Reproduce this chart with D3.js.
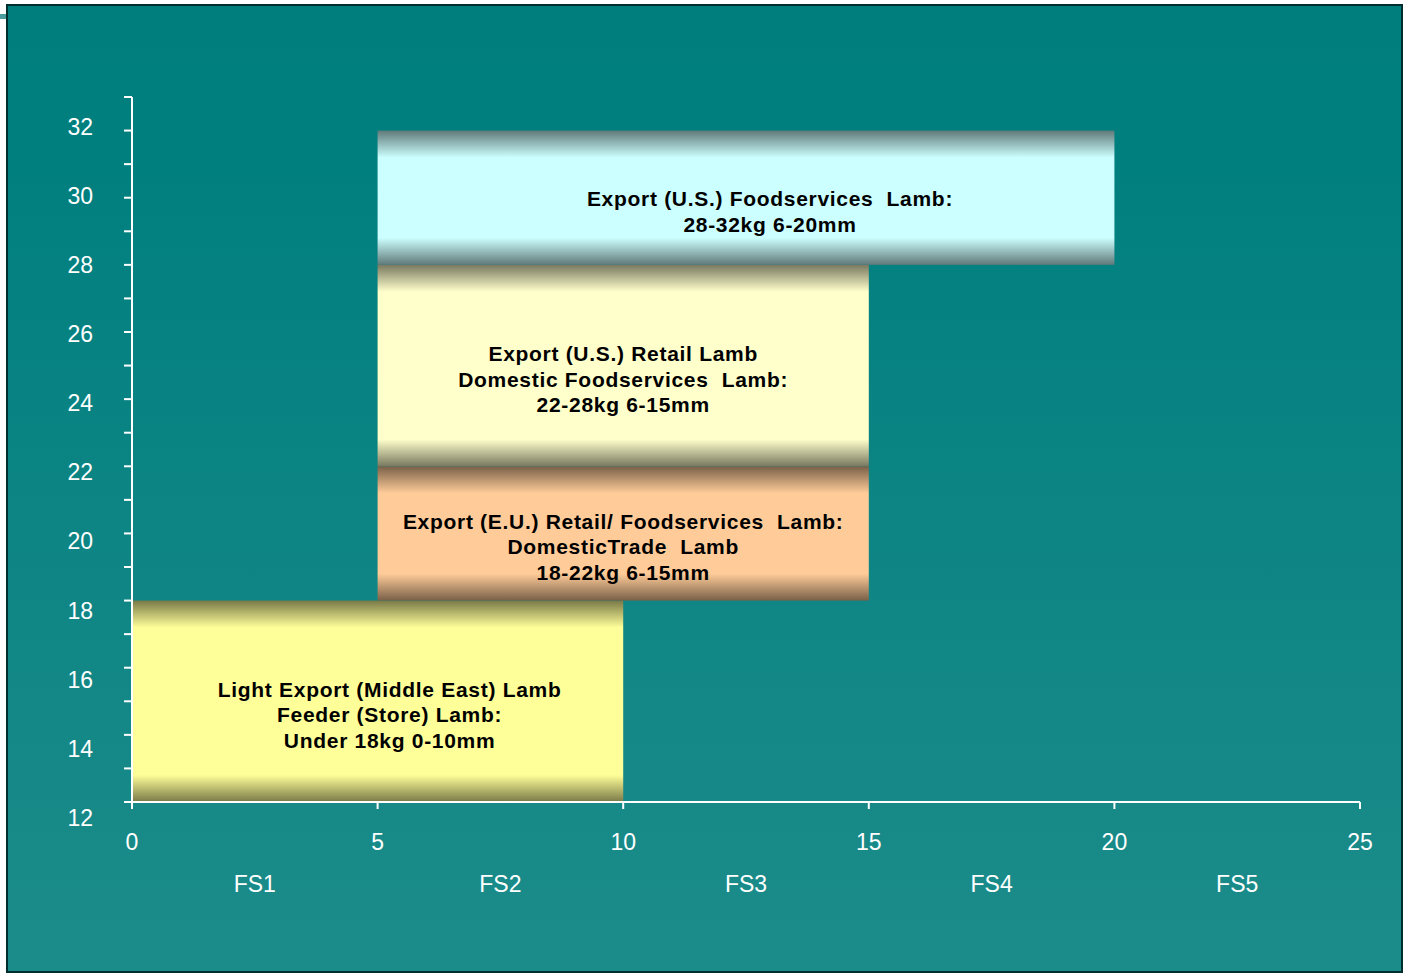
<!DOCTYPE html>
<html>
<head>
<meta charset="utf-8">
<script src="https://cdn.jsdelivr.net/npm/d3@7/dist/d3.min.js"></script>
<style>
  body { margin: 0; background: #fff; }
  text { font-family: "Liberation Sans", Arial, sans-serif; }
</style>
</head>
<body>
<div id="chart"></div>
<script>
// data
var xTicks = [0, 5, 10, 15, 20, 25];
var yTicks = d3.range(12, 34);           // minor tick at every kg
var yLabels = [12, 14, 16, 18, 20, 22, 24, 26, 28, 30, 32];
var fsLabels = ['FS1', 'FS2', 'FS3', 'FS4', 'FS5'];

var barFatFrom = [0, 5, 5, 5];
var barFatTo   = [10, 15, 15, 20];
var barKgFrom  = [12, 18, 22, 28];
var barKgTo    = [18, 22, 28, 32];
var barText = [
  ['Light Export (Middle East) Lamb', 'Feeder (Store) Lamb:', 'Under 18kg 0-10mm'],
  ['Export (E.U.) Retail/ Foodservices  Lamb:', 'DomesticTrade  Lamb', '18-22kg 6-15mm'],
  ['Export (U.S.) Retail Lamb', 'Domestic Foodservices  Lamb:', '22-28kg 6-15mm'],
  ['Export (U.S.) Foodservices  Lamb:', '28-32kg 6-20mm']
];

var W = 1403, H = 974;

var svg = d3.select('#chart').append('svg')
  .attr('width', W)
  .attr('height', H);

var defs = svg.append('defs');

var bg = defs.append('linearGradient')
  .attr('id', 'bg')
  .attr('x1', 0).attr('y1', 0).attr('x2', 0).attr('y2', 1);
bg.append('stop').attr('offset', 0).attr('stop-color', '#007e7e');
bg.append('stop').attr('offset', 0.15).attr('stop-color', '#007f7f');
bg.append('stop').attr('offset', 1).attr('stop-color', '#1c8c8a');

// little stub left of the frame
svg.append('rect')
  .attr('x', 0).attr('y', 14).attr('width', 7).attr('height', 5)
  .attr('fill', '#4b9c9c');

svg.append('rect')
  .attr('x', 7).attr('y', 5)
  .attr('width', 1395).attr('height', 967)
  .attr('fill', 'url(#bg)')
  .attr('stroke', '#002e2e')
  .attr('stroke-width', 2);

var x = d3.scaleLinear().domain([0, 25]).range([132, 1360]);
var y = d3.scaleLinear().domain([12, 33]).range([802, 97]);
// the tick labels sit on their own, slightly stretched spacing
var yText = d3.scaleLinear().domain([12, 32]).range([y(12) + 16, y(32) - 4]);
var fs = d3.scaleBand().domain(fsLabels).range(x.range());

var colour = d3.scaleOrdinal().domain(d3.range(4))
  .range(['#ffff99', '#ffcc99', '#ffffcc', '#ccffff']);

var bars = d3.range(barText.length);

bars.forEach(function (i) {
  var c = colour(i);
  var edge = d3.color(c).darker(2.1).formatHex();
  var h = y(barKgFrom[i]) - y(barKgTo[i]);
  var f = 27 / h;
  var g = defs.append('linearGradient')
    .attr('id', 'bar' + i)
    .attr('x1', 0).attr('y1', 0).attr('x2', 0).attr('y2', 1);
  g.append('stop').attr('offset', 0).attr('stop-color', edge);
  g.append('stop').attr('offset', f).attr('stop-color', c);
  g.append('stop').attr('offset', 1 - f).attr('stop-color', c);
  g.append('stop').attr('offset', 1).attr('stop-color', edge);
});

var plot = svg.append('g');

plot.selectAll('rect.bar')
  .data(bars)
  .enter()
  .append('rect')
  .attr('class', 'bar')
  .attr('x', function (i) { return x(barFatFrom[i]); })
  .attr('y', function (i) { return y(barKgTo[i]); })
  .attr('width', function (i) { return x(barFatTo[i]) - x(barFatFrom[i]); })
  .attr('height', function (i) { return y(barKgFrom[i]) - y(barKgTo[i]); })
  .attr('fill', function (i) { return 'url(#bar' + i + ')'; });

var lineH = 25.7;
var labels = plot.selectAll('text.blab')
  .data(bars)
  .enter()
  .append('text')
  .attr('class', 'blab')
  .attr('text-anchor', 'middle')
  .attr('font-weight', 'bold')
  .attr('font-size', 21)
  .attr('letter-spacing', 0.7)
  .attr('fill', '#000')
  .style('white-space', 'pre');

labels.each(function (i) {
  var cx = (x(barFatFrom[i]) + x(barFatTo[i])) / 2;
  // the widest bars carry their text a little right of centre
  if (barFatTo[i] - barFatFrom[i] > 10) cx += 24;
  if (barFatFrom[i] === 0) cx += 12;
  var cy = (y(barKgFrom[i]) + y(barKgTo[i])) / 2 + 14;
  var n = barText[i].length;
  d3.select(this).selectAll('tspan')
    .data(barText[i])
    .enter()
    .append('tspan')
    .attr('x', cx)
    .attr('y', function (d, k) { return cy + (k - (n - 1) / 2) * lineH + 7; })
    .text(function (d) { return d; });
});

// axes
var axisG = svg.append('g').attr('stroke', '#fff').attr('stroke-width', 2);

axisG.append('line')
  .attr('x1', x(0)).attr('x2', x(0))
  .attr('y1', y(33)).attr('y2', y(12));
axisG.selectAll('line.yt')
  .data(yTicks)
  .enter()
  .append('line')
  .attr('class', 'yt')
  .attr('x1', x(0) - 8).attr('x2', x(0))
  .attr('y1', function (d) { return y(d); })
  .attr('y2', function (d) { return y(d); });

axisG.append('line')
  .attr('x1', x(0)).attr('x2', x(25))
  .attr('y1', y(12)).attr('y2', y(12));
axisG.selectAll('line.xt')
  .data(xTicks)
  .enter()
  .append('line')
  .attr('class', 'xt')
  .attr('x1', function (d) { return x(d); })
  .attr('x2', function (d) { return x(d); })
  .attr('y1', y(12)).attr('y2', y(12) + 7);

svg.selectAll('text.yl')
  .data(yLabels)
  .enter()
  .append('text')
  .attr('class', 'yl')
  .attr('x', 93)
  .attr('y', function (d) { return yText(d) + 8; })
  .attr('text-anchor', 'end')
  .attr('font-size', 23)
  .attr('fill', '#fff')
  .text(function (d) { return d; });

svg.selectAll('text.xl')
  .data(xTicks)
  .enter()
  .append('text')
  .attr('class', 'xl')
  .attr('x', function (d) { return x(d); })
  .attr('y', 850)
  .attr('text-anchor', 'middle')
  .attr('font-size', 23)
  .attr('fill', '#fff')
  .text(function (d) { return d; });

svg.selectAll('text.fs')
  .data(fsLabels)
  .enter()
  .append('text')
  .attr('class', 'fs')
  .attr('x', function (d) { return fs(d) + fs.bandwidth() / 2; })
  .attr('y', 892)
  .attr('text-anchor', 'middle')
  .attr('font-size', 23)
  .attr('fill', '#fff')
  .text(function (d) { return d; });
</script>
</body>
</html>
